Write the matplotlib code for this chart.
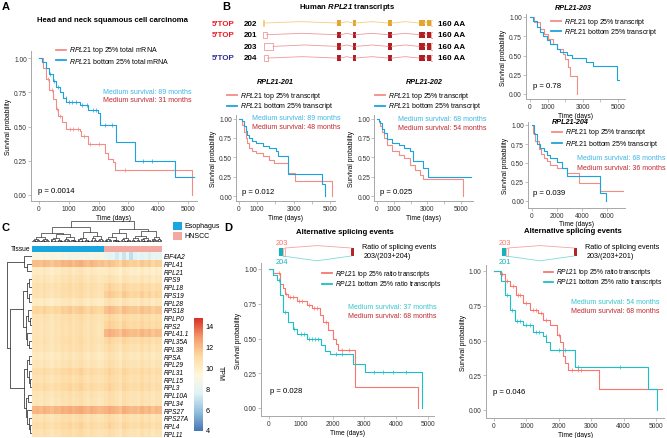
import matplotlib
matplotlib.use('Agg')
import matplotlib.pyplot as plt
import numpy as np
from matplotlib.patches import Rectangle
from matplotlib.lines import Line2D
from matplotlib.colors import ListedColormap, LinearSegmentedColormap

plt.rcParams['font.family'] = ['Liberation Sans', 'DejaVu Sans']
plt.rcParams['mathtext.fontset'] = 'custom'
plt.rcParams['mathtext.it'] = 'Liberation Sans:italic'
plt.rcParams['mathtext.rm'] = 'Liberation Sans'
plt.rcParams['mathtext.bf'] = 'Liberation Sans:bold'
plt.rcParams['mathtext.bfit'] = 'Liberation Sans:italic:bold'

# ---------------- data ----------------
# Panel A
A_top_t = [0, 120, 250, 350, 470, 560, 640, 780, 920, 1360, 1420, 1640, 2200, 2310, 2480, 2540, 5130]
A_top_s = [1.0, 0.93, 0.85, 0.77, 0.70, 0.63, 0.58, 0.53, 0.48, 0.47, 0.43, 0.37, 0.31, 0.26, 0.24, 0.18, 0.0]
A_top_end = 5130
A_top_c = [300, 420, 600, 720, 1050, 1150, 1300, 1500, 1700, 2000, 2900]
A_bot_t = [0, 100, 250, 350, 470, 580, 700, 800, 920, 1360, 1640, 1980, 2040, 2600, 3210, 4550]
A_bot_s = [1.0, 0.97, 0.93, 0.88, 0.83, 0.79, 0.75, 0.71, 0.68, 0.66, 0.62, 0.60, 0.51, 0.385, 0.25, 0.134]
A_bot_end = 5200
A_bot_c = [380, 520, 650, 900, 1000, 1100, 1250, 1450, 1600, 1800, 1900, 2200, 2450, 3500, 3800]

# Panel B, RPL21-201
B1_bot_t = [0, 185, 280, 370, 460, 555, 740, 925, 1300, 1670, 2040, 2130, 2685, 4570, 4720]
B1_bot_s = [1.0, 0.97, 0.90, 0.84, 0.79, 0.75, 0.71, 0.68, 0.64, 0.62, 0.58, 0.51, 0.28, 0.15, 0.0]
B1_bot_end = 4720
B1_top_t = [0, 185, 280, 370, 460, 555, 740, 925, 1300, 1670, 1945, 2685, 3050, 5090]
B1_top_s = [1.0, 0.92, 0.83, 0.75, 0.68, 0.62, 0.58, 0.55, 0.51, 0.47, 0.42, 0.30, 0.20, 0.0]
B1_top_end = 5090
# RPL21-202
B2_bot_t = [0, 100, 200, 300, 410, 610, 920, 1330, 1630, 1940, 2140, 2755, 3060]
B2_bot_s = [1.0, 0.97, 0.94, 0.87, 0.81, 0.73, 0.68, 0.66, 0.62, 0.58, 0.45, 0.36, 0.25]
B2_bot_end = 5600
B2_top_t = [0, 100, 200, 300, 410, 610, 920, 1330, 1630, 1940, 2245, 2550, 2755, 5140]
B2_top_s = [1.0, 0.95, 0.90, 0.82, 0.75, 0.66, 0.58, 0.53, 0.49, 0.40, 0.34, 0.27, 0.22, 0.0]
B2_top_end = 5140
# RPL21-203
B3_top_t = [0, 200, 566, 800, 1040, 1300, 1510, 1890, 1980, 2170, 2260, 2680]
B3_top_s = [1.0, 0.94, 0.85, 0.78, 0.72, 0.65, 0.59, 0.52, 0.46, 0.35, 0.23, 0.0]
B3_top_end = 2680
B3_bot_t = [0, 150, 380, 560, 750, 940, 1130, 1510, 1700, 2080, 2360, 3210, 3580, 4950]
B3_bot_s = [1.0, 0.95, 0.87, 0.80, 0.75, 0.70, 0.65, 0.59, 0.55, 0.51, 0.47, 0.41, 0.37, 0.18]
B3_bot_end = 5050
# RPL21-204
B4_bot_t = [0, 150, 400, 650, 930, 1200, 1470, 2000, 2400, 2800, 5470, 5950]
B4_bot_s = [1.0, 0.88, 0.75, 0.70, 0.66, 0.61, 0.57, 0.51, 0.44, 0.33, 0.10, 0.0]
B4_bot_end = 5950
B4_top_t = [0, 100, 270, 530, 700, 930, 1200, 1470, 2000, 2800, 3730, 5470]
B4_top_s = [1.0, 0.90, 0.79, 0.68, 0.62, 0.57, 0.52, 0.48, 0.44, 0.37, 0.24, 0.13]
B4_top_end = 7300

# Panel D, 203/(203+204)
D1_top_t = [0, 136, 345, 450, 500, 607, 870, 1180, 1340, 1600, 1700, 1860, 2020, 2120, 2180, 2700, 4700]
D1_top_s = [1.0, 0.97, 0.89, 0.86, 0.82, 0.80, 0.77, 0.74, 0.72, 0.67, 0.62, 0.56, 0.50, 0.46, 0.42, 0.15, 0.0]
D1_top_end = 4700
D1_top_c = [300, 550, 650, 750, 950, 1050, 1250, 1400, 1500, 1800, 2300, 2500]
D1_bot_t = [0, 136, 240, 345, 450, 607, 760, 870, 1180, 1650, 1760, 1910, 2650, 3010, 4820]
D1_bot_s = [1.0, 0.96, 0.92, 0.81, 0.69, 0.62, 0.57, 0.53, 0.50, 0.45, 0.41, 0.39, 0.32, 0.26, 0.0]
D1_bot_end = 4820
D1_bot_c = [300, 500, 800, 1000, 1100, 1250, 1350, 1450, 1550, 2100, 2300, 3300, 3600, 3900, 4300]
# 203/(203+201)
D2_top_t = [0, 175, 330, 485, 690, 900, 1100, 1360, 1515, 1720, 1930, 2030, 2130, 2185, 2290, 3240]
D2_top_s = [1.0, 0.976, 0.93, 0.89, 0.83, 0.77, 0.72, 0.70, 0.65, 0.61, 0.54, 0.49, 0.39, 0.34, 0.29, 0.15]
D2_top_end = 5175
D2_top_c = [250, 400, 600, 750, 800, 1000, 1200, 1300, 1450, 1600, 2000, 2400, 2600, 2700]
D2_bot_t = [0, 72, 227, 330, 485, 640, 900, 1205, 1515, 1620, 1720, 2495, 4760, 5020]
D2_bot_s = [1.0, 1.0, 0.93, 0.83, 0.72, 0.64, 0.61, 0.56, 0.53, 0.49, 0.43, 0.31, 0.15, 0.0]
D2_bot_end = 5020
D2_bot_c = [400, 550, 700, 800, 1000, 1100, 1300, 1400, 1600, 2000, 2200, 2600, 3900]

# Panel C heatmap
genes = ['EIF4A2', 'RPL41', 'RPL21', 'RPS9', 'RPL18', 'RPS19', 'RPL28', 'RPS18', 'RPLP0', 'RPS2',
         'RPL41.1', 'RPL35A', 'RPL38', 'RPSA', 'RPL29', 'RPL31', 'RPL15', 'RPL3', 'RPL10A', 'RPL34',
         'RPS27', 'RPS27A', 'RPL4', 'RPL11']
esoph_mean = [9.0, 11.8, 10.0, 10.3, 10.6, 10.5, 10.0, 11.1, 10.5, 10.4, 10.4, 10.5, 10.4, 10.1,
              10.3, 10.8, 10.5, 10.8, 10.4, 10.3, 12.0, 10.5, 10.8, 10.5]
hnscc_mean = [8.3, 11.3, 9.8, 10.2, 10.8, 11.1, 10.2, 11.5, 10.7, 10.9, 11.8, 10.8, 10.5, 10.2,
              10.4, 10.8, 10.6, 10.8, 10.4, 10.4, 11.9, 10.5, 10.8, 10.4]
n_esoph, n_hnscc = 20, 16
col_effect = [0.0, 0.1, -0.1, 0.2, 0.0, -0.2, 0.1, 0.0, 0.3, 0.2, 0.4, 0.1, 0.3, 0.5, 0.2, 0.0,
              0.3, 0.1, -0.1, 0.0, 0.2, 0.5, 0.3, 0.1, -0.2, 0.4, 0.2, 0.0, 0.1, -0.1, 0.3, 0.0,
              0.2, -0.2, 0.1, 0.0]
eif4a2_vals = [9.2, 9.0, 9.3, 8.8, 9.1, 9.0, 8.9, 9.2, 8.7, 8.9, 8.5, 8.8, 8.6, 8.7, 8.8, 8.6,
               8.9, 8.7, 8.8, 8.9, 8.2, 7.8, 8.0, 7.2, 8.3, 7.0, 8.1, 6.8, 7.6, 8.2, 7.5, 8.0,
               7.4, 8.3, 8.1, 8.0]
tissues = ['Esophagus', 'HNSCC']
row_tree = (1.0, (0.3, 0, (0.2, 1, 2)),
            (0.85,
             (0.35, (0.2, (0.1, 3, 4), (0.12, 5, 6)),
              (0.25, (0.15, 7, (0.08, 8, 9)), (0.18, 10, (0.1, 11, 12)))),
             (0.3, (0.2, (0.1, 13, 14), (0.12, 15, (0.06, 16, 17))),
              (0.22, (0.14, 18, 19), (0.18, 20, (0.1, 21, (0.08, 22, 23)))))))
col_tree = (1.0,
            (0.72, (0.45, ('c', 20, 0.25), (0.38, ('c', 14, 0.2), ('c', 16, 0.22))),
             (0.5, ('c', 14, 0.2), ('c', 16, 0.28))),
            (0.62, (0.42, ('c', 18, 0.22), ('c', 12, 0.2)),
             (0.55, (0.3, ('c', 10, 0.18), ('c', 12, 0.2)), ('c', 12, 0.25))))

# Transcript structures (relative genomic units)
tx_names = ['202', '201', '203', '204']
tx_top = ["5'TOP", "5'TOP", '', "5'TOP"]
tx_top_col = ['#ED1C24', '#ED1C24', 'none', '#2E3192']
tx_utr5 = [(0, 0.8), (0, 3.5), (1, 10), (1, 4.5)]
cds_exons = [(74, 77.5), (90, 92.5), (125, 128.5), (156, 161.5), (164, 167.5)]
utr3 = (167.5, 170)
protein_len = '160 AA'

# ---------------- figure ----------------
W, H = 667, 439
fig = plt.figure(figsize=(W / 100, H / 100), dpi=100)

SAL = '#F28C86'
BLU = '#1BA3DD'
TXT_BLU = '#3DB5E6'
TXT_RED = '#C1272D'
DRED = '#F8766D'
TEAL = '#1DC0C6'
GRAY = '#A8A8A8'
HEAT = LinearSegmentedColormap.from_list(
    'pheat', ['#4575B4', '#91BFDB', '#E0F3F8', '#FFF7DC', '#FDD9A0', '#F4996B', '#D73027'])


def T(x, y, s, **kw):
    kw.setdefault('va', 'center')
    kw.setdefault('fontsize', 5)
    return fig.text(x / W, 1 - y / H, s, **kw)


def axes_px(x0, y0, x1, y1):
    return fig.add_axes([x0 / W, 1 - y1 / H, (x1 - x0) / W, (y1 - y0) / H])


def km_axes(xp, yp, xd, yd, xlim, ylim, xticks, xlabels):
    sx = (xp[1] - xp[0]) / (xd[1] - xd[0])
    sy = (yp[1] - yp[0]) / (yd[1] - yd[0])
    x0 = xp[0] + (xlim[0] - xd[0]) * sx
    x1 = xp[0] + (xlim[1] - xd[0]) * sx
    ytop = yp[0] + (ylim[1] - yd[0]) * sy
    ybot = yp[0] + (ylim[0] - yd[0]) * sy
    ax = axes_px(x0, ytop, x1, ybot)
    ax.set_xlim(xlim)
    ax.set_ylim(ylim)
    for s in ['top', 'right']:
        ax.spines[s].set_visible(False)
    for s in ['left', 'bottom']:
        ax.spines[s].set_color(GRAY)
        ax.spines[s].set_linewidth(0.7)
    ax.set_yticks([0, 0.25, 0.5, 0.75, 1.0])
    ax.set_yticklabels(['0.00', '0.25', '0.50', '0.75', '1.00'])
    ax.set_xticks(xticks)
    ax.set_xticklabels(xlabels)
    ax.tick_params(length=2, width=0.5, color=GRAY, labelsize=4.8, labelcolor='#333333', pad=1)
    ax.set_ylabel('Survival probability', fontsize=4.8, labelpad=1.5)
    ax.set_xlabel('Time (days)', fontsize=4.8, labelpad=1)
    ax.patch.set_alpha(0)
    return ax


def km(ax, t, s, end, color, cens=None, lw=0.8):
    x = list(t) + [end]
    y = list(s) + [s[-1]]
    ax.step(x, y, where='post', color=color, lw=lw)
    if cens:
        idx = np.searchsorted(np.array(t), np.array(cens), side='right') - 1
        ax.plot(cens, np.array(s)[idx], '|', color=color, ms=2.5, mew=0.5)


def leg(x, y, color, text, length=10, fs=5):
    fig.add_artist(Line2D([x / W, (x + length) / W], [1 - y / H] * 2, color=color, lw=1.3))
    T(x + length + 3, y, text, fontsize=fs)


def surv_text(x, y, c1, t1, c2, t2):
    T(x, y, t1, color=c1, fontsize=5)
    T(x, y + 9, t2, color=c2, fontsize=5)


ticks5 = [0, 1000, 2000, 3000, 4000, 5000]
lab5 = ['0', '1000', '2000', '3000', '4000', '5000']
lab5b = ['0', '1000', '', '3000', '', '5000']

# ---- Panel A ----
T(2, 7, 'A', fontsize=8, fontweight='bold')
T(113, 20, 'Head and neck squamous cell carcinoma', fontsize=5.6, fontweight='bold', ha='center')
axA = km_axes((39, 188), (196, 59), (0, 5000), (0, 1), (-270, 5300), (-0.045, 1.05), ticks5, lab5)
km(axA, A_top_t, A_top_s, A_top_end, SAL, A_top_c)
km(axA, A_bot_t, A_bot_s, A_bot_end, BLU, A_bot_c)
leg(56, 51, SAL, r'$\mathit{RPL21}$ top 25% total mRNA')
leg(56, 61, BLU, r'$\mathit{RPL21}$ bottom 25% total mRNA')
surv_text(103, 92, TXT_BLU, 'Medium survival: 89 months', TXT_RED, 'Medium survival: 31 months')
T(38, 192, 'p = 0.0014', fontsize=5.6)

# ---- Panel B transcripts ----
T(222, 7, 'B', fontsize=8, fontweight='bold')
T(347, 7.5, r'Human $\mathbfit{RPL21}$ transcripts', fontsize=5.6, fontweight='bold', ha='center')
axT = axes_px(263, 18.2, 433, 64.9)
axT.set_xlim(0, 170)
axT.set_ylim(3.5, -0.5)
axT.axis('off')
for i, name in enumerate(tx_names):
    gold = (name == '202')
    fill = '#E2A62E' if gold else '#B01E23'
    line = '#F4CD7C' if gold else '#EE9A9A'
    u0, u1 = tx_utr5[i]
    if gold:
        axT.add_patch(Rectangle((u0, i - 0.25), u1 - u0, 0.5, fc=line, ec=line, lw=0.6))
    else:
        axT.add_patch(Rectangle((u0, i - 0.27), u1 - u0, 0.54, fc='white', ec=line, lw=0.6))
    starts = [u1] + [e[1] for e in cds_exons[:-1]]
    ends = [e[0] for e in cds_exons]
    for a, b in zip(starts, ends):
        mid = (a + b) / 2
        axT.plot([a, mid, b], [i, i - 0.12, i], color=line, lw=0.6)
    for a, b in cds_exons:
        axT.add_patch(Rectangle((a, i - 0.27), b - a, 0.54, fc=fill, ec='none'))
    axT.add_patch(Rectangle((utr3[0], i - 0.27), utr3[1] - utr3[0], 0.54, fc='white', ec=line, lw=0.6))
    y = 24 + i * 11.6
    if tx_top[i]:
        T(235, y, tx_top[i], color=tx_top_col[i], fontsize=5.8, fontweight='bold', ha='right')
    T(244, y, name, fontsize=5.8, fontweight='bold')
    T(438, y, protein_len, fontsize=5.8, fontweight='bold')

# ---- RPL21-201 ----
T(275, 83, 'RPL21-201', fontsize=5.2, fontweight='bold', style='italic', ha='center')
axB1 = km_axes((239, 330), (197, 119.5), (0, 5000), (0, 1), (-150, 5300), (-0.065, 1.04), ticks5, lab5b)
km(axB1, B1_top_t, B1_top_s, B1_top_end, SAL)
km(axB1, B1_bot_t, B1_bot_s, B1_bot_end, BLU)
leg(227, 96, SAL, r'$\mathit{RPL21}$ top 25% transcript')
leg(227, 107, BLU, r'$\mathit{RPL21}$ bottom 25% transcript')
surv_text(252, 119, TXT_BLU, 'Medium survival: 89 months', TXT_RED, 'Medium survival: 48 months')
T(242, 193, 'p = 0.012', fontsize=5.6)

# ---- RPL21-202 ----
T(424, 83, 'RPL21-202', fontsize=5.2, fontweight='bold', style='italic', ha='center')
axB2 = km_axes((377, 461), (197, 119.5), (0, 5000), (0, 1), (-150, 5700), (-0.065, 1.04), ticks5, lab5b)
km(axB2, B2_top_t, B2_top_s, B2_top_end, SAL)
km(axB2, B2_bot_t, B2_bot_s, B2_bot_end, BLU)
leg(375, 96, SAL, r'$\mathit{RPL21}$ top 25% transcript')
leg(375, 107, BLU, r'$\mathit{RPL21}$ bottom 25% transcript')
surv_text(398, 120, TXT_BLU, 'Medium survival: 68 months', TXT_RED, 'Medium survival: 54 months')
T(380, 193, 'p = 0.025', fontsize=5.6)

# ---- RPL21-203 ----
T(573, 8, 'RPL21-203', fontsize=5.2, fontweight='bold', style='italic', ha='center')
axB3 = km_axes((530, 618), (95, 18), (0, 5000), (0, 1), (-230, 5400), (-0.065, 1.04), ticks5, lab5b)
km(axB3, B3_top_t, B3_top_s, B3_top_end, SAL)
km(axB3, B3_bot_t, B3_bot_s, B3_bot_end, BLU)
leg(551, 22, SAL, r'$\mathit{RPL21}$ top 25% transcript')
leg(551, 32, BLU, r'$\mathit{RPL21}$ bottom 25% transcript')
T(533, 87, 'p = 0.78', fontsize=5.6)

# ---- RPL21-204 ----
T(570, 123, 'RPL21-204', fontsize=5.2, fontweight='bold', style='italic', ha='center')
axB4 = km_axes((532, 607), (202, 126), (0, 6000), (0, 1), (-300, 7400), (-0.09, 1.04),
               [0, 2000, 4000, 6000], ['0', '2000', '4000', '6000'])
km(axB4, B4_top_t, B4_top_s, B4_top_end, SAL)
km(axB4, B4_bot_t, B4_bot_s, B4_bot_end, BLU)
leg(552, 133, SAL, r'$\mathit{RPL21}$ top 25% transcript')
leg(552, 144, BLU, r'$\mathit{RPL21}$ bottom 25% transcript')
surv_text(577, 159, TXT_BLU, 'Medium survival: 68 months', TXT_RED, 'Medium survival: 36 months')
T(533, 194, 'p = 0.039', fontsize=5.6)

# ---- Panel C ----
T(1, 228, 'C', fontsize=8, fontweight='bold')
ncol = n_esoph + n_hnscc
M = np.zeros((len(genes), ncol))
grp = np.array([0] * n_esoph + [1] * n_hnscc)
for i, g in enumerate(genes):
    if g == 'EIF4A2':
        M[i] = eif4a2_vals
    else:
        M[i] = np.where(grp == 0, esoph_mean[i], hnscc_mean[i]) + np.array(col_effect)
axH = axes_px(32, 253, 162, 438)
im = axH.imshow(M, aspect='auto', cmap=HEAT, vmin=3.9, vmax=14.7, interpolation='nearest')
axH.set_xticks([])
axH.yaxis.tick_right()
axH.set_yticks(range(len(genes)))
axH.set_yticklabels(genes, fontsize=4.7, style='italic')
axH.tick_params(length=0, pad=1.5)
for s in axH.spines.values():
    s.set_visible(False)

axTis = axes_px(32, 247, 162, 252.5)
tis_colors = ['#1AA7E0', '#F4A9A0']
axTis.imshow(grp[None, :], aspect='auto', cmap=ListedColormap(tis_colors), vmin=0, vmax=1,
             interpolation='nearest')
axTis.axis('off')
T(30, 249.5, 'Tissue', fontsize=4.8, ha='right')

for k, (nm, c) in enumerate(zip(tissues, tis_colors)):
    y0 = 223 + k * 9.5
    fig.add_artist(Rectangle((173 / W, 1 - (y0 + 8) / H), 9 / W, 8 / H, fc=c, ec='none',
                             transform=fig.transFigure))
    T(184, y0 + 4, nm, fontsize=5)


def seg(ax, pos, hts, orient):
    if orient == 'top':
        ax.plot(pos, hts, color='black', lw=0.4, solid_capstyle='butt')
    else:
        ax.plot(hts, pos, color='black', lw=0.45, solid_capstyle='butt')


def comb(ax, counter, n, h, orient):
    if n == 1:
        p = counter[0]
        counter[0] += 1
        return float(p), 0.0
    a = n // 2
    xl, hl = comb(ax, counter, a, h * 0.62, orient)
    xr, hr = comb(ax, counter, n - a, h * 0.55, orient)
    seg(ax, [xl, xl, xr, xr], [hl, h, h, hr], orient)
    return (xl + xr) / 2, h


def draw_tree(ax, node, counter, orient):
    if isinstance(node, int):
        return float(node), 0.0
    if node[0] == 'c':
        return comb(ax, counter, node[1], node[2], orient)
    h, l, r = node
    xl, hl = draw_tree(ax, l, counter, orient)
    xr, hr = draw_tree(ax, r, counter, orient)
    seg(ax, [xl, xl, xr, xr], [hl, h, h, hr], orient)
    return (xl + xr) / 2, h


axCD = axes_px(32, 222, 162, 243)
cnt = [0]
draw_tree(axCD, col_tree, cnt, 'top')
axCD.set_xlim(-0.5, cnt[0] - 0.5)
axCD.set_ylim(0, 1.02)
axCD.axis('off')

axRD = axes_px(6, 253, 32, 438)
draw_tree(axRD, row_tree, [0], 'left')
axRD.set_ylim(len(genes) - 0.5, -0.5)
axRD.set_xlim(1.02, 0)
axRD.axis('off')

cax = axes_px(194, 319, 203, 432)
cb = fig.colorbar(im, cax=cax, ticks=[4, 6, 8, 10, 12, 14])
cb.outline.set_visible(False)
cax.tick_params(labelsize=5.2, length=0, pad=2)
T(220, 373, 'TPM', fontsize=5, rotation=270, ha='center')

# ---- Panel D ----
T(224, 228, 'D', fontsize=8, fontweight='bold')


def splice_diagram(x0, x1, y_c, up_lbl, dn_lbl, ratio_lbl, tx, ty):
    ax = axes_px(x0, y_c - 12, x1, y_c + 12)
    ax.set_xlim(0, 100)
    ax.set_ylim(-3, 3)
    ax.axis('off')
    ax.plot([8, 50, 95], [1, 1.6, 1], color='#F4A5A0', lw=0.6)
    ax.plot([5, 50, 95], [-1, -2.2, -1], color='#7FD8DB', lw=0.6)
    ax.add_patch(Rectangle((5, -1), 3, 2, fc='white', ec='#F4A5A0', lw=0.6))
    ax.add_patch(Rectangle((0, -1), 5, 2, fc='#12B3BA', ec='none'))
    ax.add_patch(Rectangle((95, -1), 3.5, 2, fc='#B2252A', ec='none'))
    T(x0 + 3, y_c - 9, up_lbl, color=DRED, fontsize=5.4, ha='center')
    T(x0 + 3, y_c + 10, dn_lbl, color='#12B3BA', fontsize=5.4, ha='center')
    T(tx, ty, 'Ratio of splicing events', fontsize=5.2)
    T(tx + 2, ty + 9, ratio_lbl, fontsize=5.2)


# D1
T(345, 233, 'Alternative splicing events', fontsize=5.6, fontweight='bold', ha='center')
splice_diagram(279, 355, 253, '203', '204', '203/(203+204)', 362, 248)
axD1 = km_axes((269, 428), (409, 270), (0, 5000), (0, 1), (-250, 5200), (-0.058, 1.04), ticks5, lab5)
km(axD1, D1_top_t, D1_top_s, D1_top_end, DRED, D1_top_c)
km(axD1, D1_bot_t, D1_bot_s, D1_bot_end, TEAL, D1_bot_c)
leg(322, 274, DRED, r'$\mathit{RPL21}$ top 25% ratio transcripts', fs=4.8)
leg(322, 285, TEAL, r'$\mathit{RPL21}$ bottom 25% ratio transcripts', fs=4.8)
surv_text(348, 308, '#35C4CC', 'Medium survival: 37 months', TXT_RED, 'Medium survival: 68 months')
T(270, 392, 'p = 0.028', fontsize=5.6)

# D2
T(573, 232, 'Alternative splicing events', fontsize=5.6, fontweight='bold', ha='center')
splice_diagram(502, 578, 253, '203', '201', '203/(203+201)', 585, 248)
axD2 = km_axes((494, 656), (411, 272), (0, 5000), (0, 1), (-250, 5250), (-0.058, 1.04), ticks5, lab5)
km(axD2, D2_top_t, D2_top_s, D2_top_end, DRED, D2_top_c)
km(axD2, D2_bot_t, D2_bot_s, D2_bot_end, TEAL, D2_bot_c)
leg(544, 273, DRED, r'$\mathit{RPL21}$ top 25% ratio transcripts', length=9, fs=4.8)
leg(544, 283, TEAL, r'$\mathit{RPL21}$ bottom 25% ratio transcripts', length=9, fs=4.8)
surv_text(571, 303, '#35C4CC', 'Medium survival: 54 months', TXT_RED, 'Medium survival: 68 months')
T(493, 393, 'p = 0.046', fontsize=5.6)

fig.savefig('out.png', dpi=100)
